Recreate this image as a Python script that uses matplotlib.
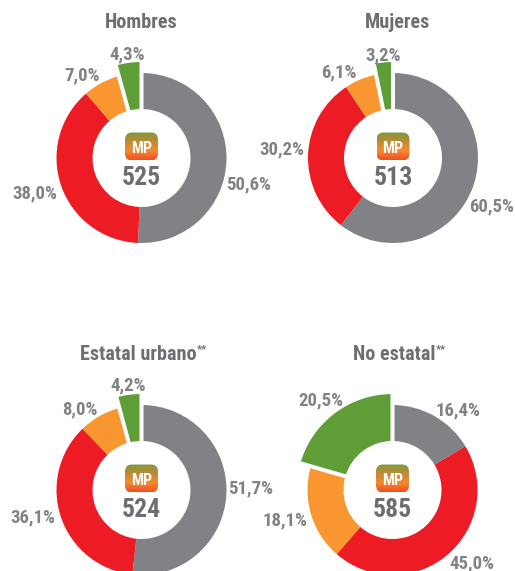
import matplotlib
matplotlib.use("Agg")
import logging
import matplotlib.pyplot as plt
import numpy as np
from matplotlib.patches import FancyBboxPatch
from matplotlib.colors import LinearSegmentedColormap

logging.getLogger('matplotlib.font_manager').setLevel(logging.ERROR)
plt.rcParams['font.family'] = ['Roboto Condensed', 'Archivo Narrow', 'Asap Condensed', 'Roboto', 'DejaVu Sans']

titles = ["Hombres", "Mujeres", "Estatal urbano", "No estatal"]
title_marks = ["", "", "**", "**"]
scores = ["525", "513", "524", "585"]
grey_share = [50.6, 60.5, 51.7, 16.4]
red_share = [38.0, 30.2, 36.1, 45.0]
orange_share = [7.0, 6.1, 8.0, 18.1]
green_share = [4.3, 3.2, 4.2, 20.5]

colors = ["#808285", "#ED1C24", "#F9962F", "#5F9E37"]
W, H = 515, 571
R, r_in, R_green = 85.0, 49.0, 98.0
centers = [(141.5, 158), (393, 158), (141.5, 490), (392.5, 490)]
title_pos = [(141.5, 21), (398, 21), (138, 353), (394, 353)]
label_pos = [
    [(249, 182), (35, 191), (82, 73), (127.5, 52.5)],
    [(492, 204), (282, 147), (339, 70), (383, 53)],
    [(251, 486), (33, 515), (80, 407), (128, 383)],
    [(458, 408), (472, 561), (285, 518), (321, 398)],
]

fig = plt.figure(figsize=(W / 100, H / 100), dpi=100, facecolor="white")
grad = LinearSegmentedColormap.from_list("mp", ["#7C9A3C", "#C08A35", "#F58A2C", "#F04E23"])
half = 112.0

for i, (cx, cy) in enumerate(centers):
    ax = fig.add_axes([(cx - half) / W, 1 - (cy + half) / H, 2 * half / W, 2 * half / H])
    vals = [grey_share[i], red_share[i], orange_share[i], green_share[i]]
    wedges, _ = ax.pie(vals, colors=colors, startangle=90, counterclock=False,
                       radius=R, wedgeprops=dict(width=R - r_in, linewidth=0))
    g = wedges[3]
    g.set_radius(R_green)
    g.set_width(R_green - r_in + 2)
    g.set_edgecolor("white")
    g.set_linewidth(2.9)
    ax.set_xlim(-half, half)
    ax.set_ylim(-half, half)
    ax.axis("off")
    for w in wedges:
        w.set_clip_on(False)
    bx, by, bw, bh = -16.5, -2.5, 33, 28
    box = FancyBboxPatch((bx + 6, by + 6), bw - 12, bh - 12,
                         boxstyle="round,pad=6,rounding_size=7", fc="none", ec="none",
                         transform=ax.transData)
    ax.add_patch(box)
    im = ax.imshow(np.linspace(0, 1, 64).reshape(-1, 1), cmap=grad, origin="upper",
                   extent=(bx, bx + bw, by, by + bh), aspect="auto", zorder=3)
    im.set_clip_path(box)
    ax.set_xlim(-half, half)
    ax.set_ylim(-half, half)
    ax.set_aspect("equal")
    ax.text(0, by + bh / 2 - 0.5, "MP", color="white", fontsize=11.5, fontweight="bold",
            ha="center", va="center_baseline", zorder=4)
    ax.text(0, -17.5, scores[i], color="#6D6E71", fontsize=18.5, fontweight="bold",
            ha="center", va="center_baseline", zorder=4)

over = fig.add_axes([0, 0, 1, 1], facecolor="none")
over.set_xlim(0, W)
over.set_ylim(H, 0)
over.axis("off")
txt = "#808285"
fmt = lambda v: f"{v:.1f}%".replace(".", ",")
fig.canvas.draw()
rend = fig.canvas.get_renderer()
for i in range(4):
    t = over.text(*title_pos[i], titles[i], color="#6D6E71", fontsize=14.5, fontweight="bold",
                  ha="center", va="center_baseline")
    if title_marks[i]:
        bb = t.get_window_extent(rend)
        over.text(bb.x1 + 0.5, title_pos[i][1] - 4, title_marks[i], color="#6D6E71",
                  fontsize=8, fontweight="bold", ha="left", va="center")
    vals = [grey_share[i], red_share[i], orange_share[i], green_share[i]]
    for v, (x, y) in zip(vals, label_pos[i]):
        over.text(x, y, fmt(v), color=txt, fontsize=13.5, fontweight="bold",
                  ha="center", va="center_baseline")

fig.savefig("out.png", dpi=100)
